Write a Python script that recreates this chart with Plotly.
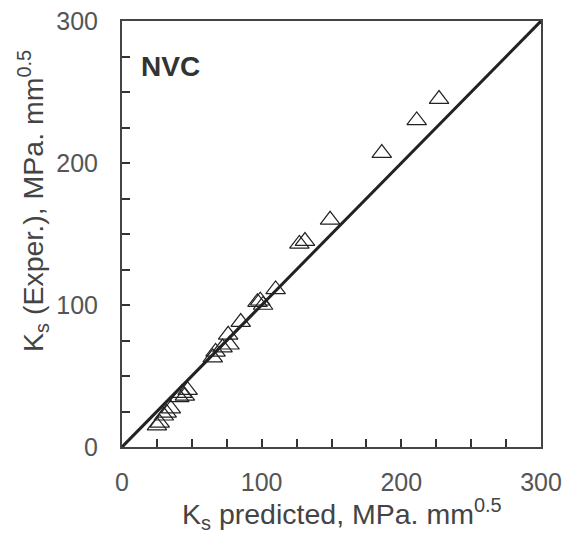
import plotly.graph_objects as go

ks_pred = [25, 27, 30, 32, 35, 41, 43, 45, 47, 65, 67, 72, 76, 77, 85, 97, 99, 101, 110, 127, 131, 149, 186, 211, 227]
ks_exp = [15, 17, 22, 24, 27, 35, 38, 36, 40, 63, 67, 70, 79, 72, 88, 102, 103, 100, 111, 143, 145, 160, 207, 230, 245]
line_x = [0, 300]
line_y = [0, 300]
ticks = [0, 100, 200, 300]

fig = go.Figure()
fig.add_trace(go.Scatter(x=line_x, y=line_y, mode="lines",
                         line=dict(color="#222", width=3), showlegend=False))
fig.add_trace(go.Scatter(x=ks_pred, y=ks_exp, mode="markers",
                         marker=dict(symbol="triangle-up-open", size=17,
                                     color="#222", line=dict(width=1.2, color="#222")),
                         showlegend=False))

font_family = "Liberation Sans, Arial, sans-serif"
axis_common = dict(range=[0, 300], tickvals=ticks, ticks="inside", ticklen=8,
                   tickcolor="#333", tickwidth=1.5, showline=True, linecolor="#444",
                   linewidth=2, mirror=True, showgrid=False, zeroline=False,
                   automargin=False,
                   tickfont=dict(size=25, color="#555", family=font_family),
                   minor=dict(dtick=25, ticks="inside", ticklen=8, tickcolor="#333", tickwidth=1.5))

fig.update_xaxes(**axis_common, ticklabelstandoff=12)
fig.update_yaxes(**axis_common, ticklabelstandoff=17)

title_font = dict(size=28.5, color="#444", family=font_family)
fig.add_annotation(xref="paper", yref="paper", x=0.526, y=-0.157,
                   xanchor="center", yanchor="middle", showarrow=False,
                   text="K<sub>s</sub> predicted, MPa. mm<sup>0.5</sup>", font=title_font)
fig.add_annotation(xref="paper", yref="paper", x=-0.2124, y=0.5775,
                   xanchor="center", yanchor="middle", showarrow=False, textangle=-90,
                   text="K<sub>s</sub> (Exper.), MPa. mm<sup>0.5</sup>", font=title_font)

fig.add_annotation(x=35, y=268, text="<b>NVC</b>", showarrow=False,
                   font=dict(size=28, color="#333", family=font_family))

fig.update_layout(width=570, height=545, margin=dict(l=122, r=29, t=21, b=98),
                  plot_bgcolor="white", paper_bgcolor="white")
fig.write_html("out.html")
